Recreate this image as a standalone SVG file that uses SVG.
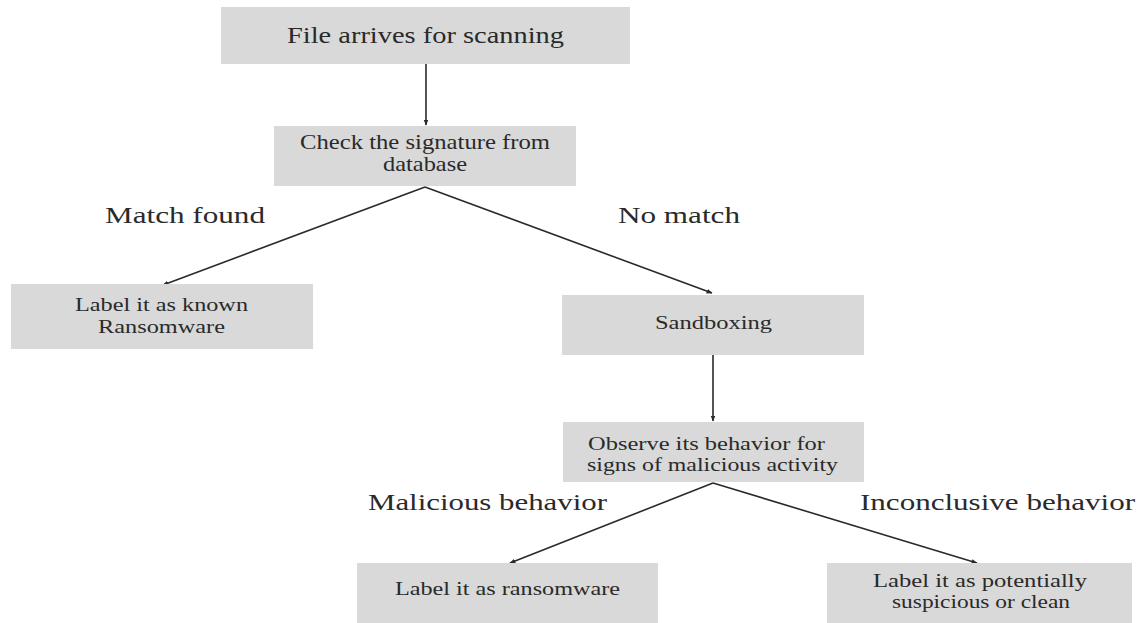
<svg xmlns="http://www.w3.org/2000/svg" width="1137" height="623" viewBox="0 0 1137 623">
<style>
.box{fill:#d9d9d9;}
.t{font-family:"Liberation Serif","Times New Roman",serif;fill:#2a2a2a;}
.bt{font-size:19px;}
.lt{font-size:24px;}
.c{stroke:#2a2a2a;stroke-width:1.6;fill:none;marker-end:url(#ah);}
</style>
<defs>
<marker id="ah" viewBox="0 0 10 10" refX="9" refY="5" markerWidth="6" markerHeight="6" orient="auto" markerUnits="userSpaceOnUse">
<path d="M0,1 L10,5 L0,9 z" fill="#2a2a2a"/>
</marker>
</defs>
<rect width="1137" height="623" fill="#ffffff"/>
<g id="connectors">
<line class="c" x1="426" y1="64" x2="426" y2="125"/>
<line class="c" x1="425" y1="187" x2="163" y2="285"/>
<line class="c" x1="425" y1="187" x2="712" y2="293"/>
<line class="c" x1="713" y1="355" x2="713" y2="421"/>
<line class="c" x1="713" y1="483" x2="510" y2="563"/>
<line class="c" x1="713" y1="483" x2="977" y2="563"/>
</g>
<g id="labels">
<text class="t lt" x="105" y="223" textLength="160" lengthAdjust="spacingAndGlyphs">Match found</text>
<text class="t lt" x="618" y="223" textLength="122" lengthAdjust="spacingAndGlyphs">No match</text>
<text class="t lt" x="368" y="510" textLength="239" lengthAdjust="spacingAndGlyphs">Malicious behavior</text>
<text class="t lt" x="860" y="510" textLength="275" lengthAdjust="spacingAndGlyphs">Inconclusive behavior</text>
</g>
<g id="n1">
<rect class="box" x="221" y="7" width="409" height="57"/>
<text class="t" style="font-size:24px" x="287" y="43" textLength="277" lengthAdjust="spacingAndGlyphs">File arrives for scanning</text>
</g>
<g id="n2">
<rect class="box" x="274" y="126" width="302" height="60"/>
<text class="t" style="font-size:21px" x="300" y="149" textLength="250" lengthAdjust="spacingAndGlyphs">Check the signature from</text>
<text class="t" style="font-size:21px" x="383" y="171" textLength="84" lengthAdjust="spacingAndGlyphs">database</text>
</g>
<g id="n3">
<rect class="box" x="11" y="284" width="302" height="65"/>
<text class="t bt" x="75" y="311" textLength="173" lengthAdjust="spacingAndGlyphs">Label it as known</text>
<text class="t bt" x="98" y="333" textLength="127" lengthAdjust="spacingAndGlyphs">Ransomware</text>
</g>
<g id="n4">
<rect class="box" x="562" y="295" width="302" height="60"/>
<text class="t bt" x="655" y="329" textLength="117" lengthAdjust="spacingAndGlyphs">Sandboxing</text>
</g>
<g id="n5">
<rect class="box" x="563" y="422" width="301" height="60"/>
<text class="t bt" x="588" y="450" textLength="237" lengthAdjust="spacingAndGlyphs">Observe its behavior for</text>
<text class="t bt" x="587" y="471" textLength="251" lengthAdjust="spacingAndGlyphs">signs of malicious activity</text>
</g>
<g id="n6">
<rect class="box" x="357" y="563" width="301" height="60"/>
<text class="t bt" x="395" y="595" textLength="225" lengthAdjust="spacingAndGlyphs">Label it as ransomware</text>
</g>
<g id="n7">
<rect class="box" x="827" y="563" width="305" height="60"/>
<text class="t bt" x="873" y="587" textLength="214" lengthAdjust="spacingAndGlyphs">Label it as potentially</text>
<text class="t bt" x="892" y="608" textLength="178" lengthAdjust="spacingAndGlyphs">suspicious or clean</text>
</g>
</svg>
